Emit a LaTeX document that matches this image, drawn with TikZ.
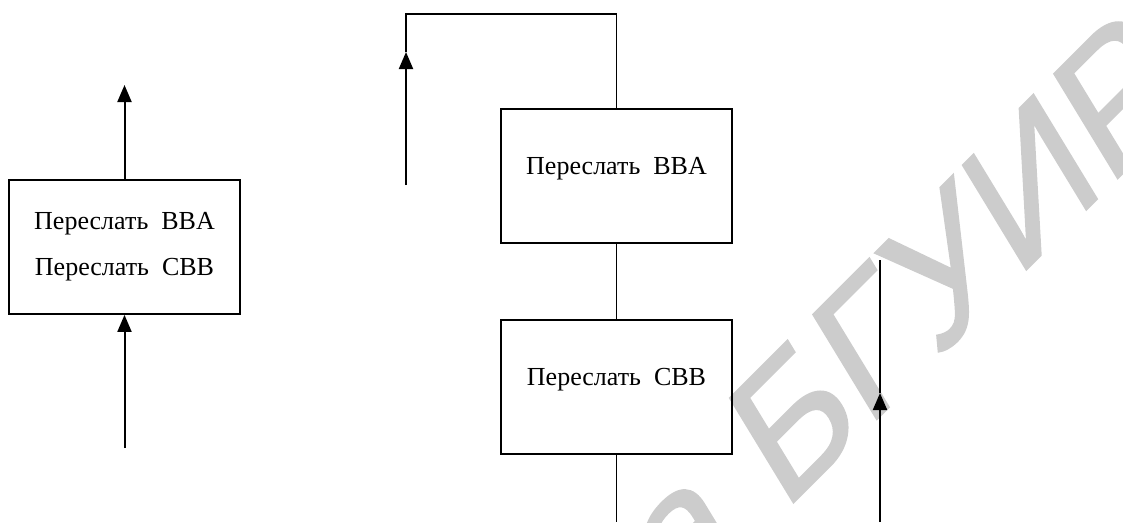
\documentclass[tikz,border=0pt]{standalone}
\usepackage{fontspec}
\setmainfont{Liberation Serif}
\newfontfamily\wmfont[FakeBold=1.2]{Liberation Sans}
\usetikzlibrary{arrows.meta, positioning}
\tikzstyle{block} = [rectangle, draw=black, line width=1.8pt, minimum width=231pt, minimum height=134pt, inner sep=0pt, align=center, font=\fontsize{26}{46}\selectfont]
\tikzstyle{oneline} = [text height=17pt, text depth=20pt]
\tikzstyle{line} = [line width=1.8pt]
\tikzstyle{arrow} = [line width=2pt, -{Triangle[length=17pt, width=14pt]}]
\tikzstyle{watermark} = [text=black!20, font=\wmfont\fontsize{165}{165}\selectfont, inner sep=0pt, transform shape]

\begin{document}
\begin{tikzpicture}[x=1pt, y=-1pt]
    \useasboundingbox (0,0) rectangle (1123,522);
    % watermark behind everything
    \begin{scope}[shift={(783,513)}, cm={0.77,0.77,-0.56,0.92,(0,0)}]
        \node (wmb) [watermark, anchor=base west] at (0,0) {БГУИР};
        \node (wma) [watermark, anchor=base east] at (wmb.base west) {Библиотека\kern0.28em};
    \end{scope}

    % left: both moves in one block
    \node (both) [block] at (124.5,247) {Переслать\ \ BBA\\Переслать\ \ CBB};
    \coordinate (bothout) at (124.5,85);
    \coordinate (bothin) at (124.5,448);
    \draw [arrow] (both.north) -- (bothout);
    \draw [arrow] (bothin) -- (both.south);

    % right: two separate blocks
    \node (bba) [block, oneline] at (616.5,176) {Переслать\ \ BBA};
    \node (cbb) [block, oneline, below=75pt of bba] {Переслать\ \ CBB};
    \coordinate (loopin) at (406,185);
    \coordinate (looptip) at (406,52);
    \coordinate (loopcorner) at (406,14);
    \coordinate (cbbout) at (616.5,522);
    \draw [arrow] (loopin) -- (looptip);
    \draw [line] (looptip) -- (loopcorner) -| (bba.north);
    \draw [line] (bba) -- (cbb);
    \draw [line] (cbb.south) -- (cbbout);

    \coordinate (rin) at (880,522);
    \coordinate (rtip) at (880,393);
    \coordinate (rtop) at (880,260);
    \draw [arrow] (rin) -- (rtip);
    \draw [line] (rtip) -- (rtop);
\end{tikzpicture}
\end{document}
